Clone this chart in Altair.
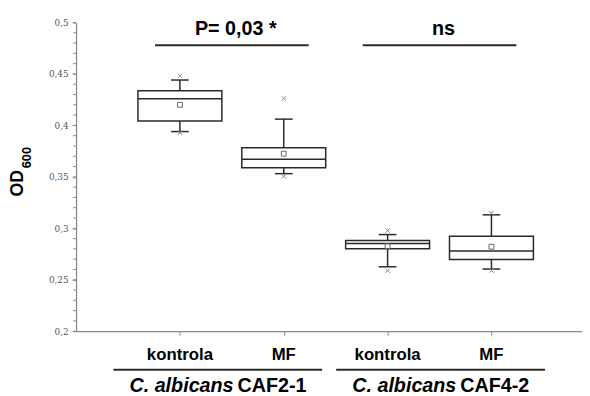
import altair as alt
import pandas as pd

# ---- data ----
categories = ["kontrola", "MF", "kontrola", "MF"]
strains = ["CAF2-1", "CAF2-1", "CAF4-2", "CAF4-2"]
q1 = [0.4042, 0.3588, 0.2802, 0.2697]
median = [0.4259, 0.3671, 0.2853, 0.2779]
q3 = [0.4336, 0.3783, 0.2882, 0.2923]
mean = [0.4200, 0.3725, 0.2827, 0.2821]
whisker_low = [0.3940, 0.3531, 0.2626, 0.2604]
whisker_high = [0.4441, 0.4061, 0.2939, 0.3131]
minimum = [0.3928, 0.3505, 0.2588, 0.2590]
maximum = [0.4482, 0.4262, 0.2978, 0.3147]

group_strains = ["CAF2-1", "CAF4-2"]
group_species = ["C. albicans", "C. albicans"]
comparisons = ["P= 0,03 *", "ns"]

y_major = [0.2, 0.25, 0.3, 0.35, 0.4, 0.45, 0.5]
y_minor = [round(0.2 + 0.01 * i, 2) for i in range(31)]
title_main = ["OD"]
title_sub = ["600"]

# ---- layout constants ----
XMAX = 4.872
BOX_HALF = 0.404
CAP_HALF = 0.085
BRACKET_HALF = 0.74
UNDER_HALF = 1.005
GROUP_SHIFT = [-0.135, 0.01]
FONT = "Liberation Sans"
AXIS_GRAY = "#8a8a8a"
INK = "#2a2a2a"

df = pd.DataFrame({
    "category": categories, "strain": strains,
    "pos": [i + 1 for i in range(len(categories))],
    "q1": q1, "median": median, "q3": q3, "mean": mean,
    "whisker_low": whisker_low, "whisker_high": whisker_high,
    "minimum": minimum, "maximum": maximum,
})

centers = df.groupby("strain", sort=False)["pos"].mean()
gdf = pd.DataFrame({
    "strain": group_strains, "species": group_species, "comparison": comparisons,
    "center": [centers[s] for s in group_strains],
    "shift": GROUP_SHIFT,
})

xs = alt.Scale(domain=[0, XMAX], nice=False, zero=False)
ys = alt.Scale(domain=[0.2, 0.5], nice=False, zero=False)

AX_X = alt.Axis(values=df["pos"].tolist(), labels=False, title=None, grid=False,
                tickSize=4, tickColor=AXIS_GRAY, domainColor=AXIS_GRAY,
                domainWidth=1.3, tickWidth=1)
AX_Y = alt.Axis(values=y_major, labelExpr="replace(toString(datum.value), '.', ',')",
                title=None, grid=False, tickSize=4, tickColor=AXIS_GRAY,
                domainColor=AXIS_GRAY, domainWidth=1.3, tickWidth=1,
                labelFont="DejaVu Serif", labelFontSize=9, labelColor="#555",
                labelPadding=4)


def X(field):
    return alt.X(field, scale=xs, axis=AX_X)


def Y(field):
    return alt.Y(field, scale=ys, axis=AX_Y)


base = alt.Chart(df)

whiskers_lo = base.mark_rule(color=INK, strokeWidth=1.5).encode(
    x=X("pos:Q"), y=Y("whisker_low:Q"), y2="q1:Q",
)
whiskers_hi = base.mark_rule(color=INK, strokeWidth=1.5).encode(
    x=X("pos:Q"), y=Y("q3:Q"), y2="whisker_high:Q",
)

boxes = base.transform_calculate(
    xl=f"datum.pos - {BOX_HALF}", xr=f"datum.pos + {BOX_HALF}"
).mark_rect(fill="white", stroke=INK, strokeWidth=1.5).encode(
    x=X("xl:Q"), x2="xr:Q", y=Y("q1:Q"), y2="q3:Q",
)

medians = base.transform_calculate(
    xl=f"datum.pos - {BOX_HALF}", xr=f"datum.pos + {BOX_HALF}"
).mark_rule(color=INK, strokeWidth=1.5).encode(
    x=X("xl:Q"), x2="xr:Q", y=Y("median:Q"),
)

caps = base.transform_fold(["whisker_low", "whisker_high"], as_=["k", "v"]).transform_calculate(
    xl=f"datum.pos - {CAP_HALF}", xr=f"datum.pos + {CAP_HALF}"
).mark_rule(color=INK, strokeWidth=1.5).encode(
    x=X("xl:Q"), x2="xr:Q", y=Y("v:Q"),
)

means = base.mark_point(shape="square", filled=False, size=24, color="#666",
                        strokeWidth=1, opacity=1).encode(
    x=X("pos:Q"), y=Y("mean:Q"),
)

extremes = base.transform_fold(["minimum", "maximum"], as_=["k", "v"]).mark_point(
    shape="M-1,-1L1,1M-1,1L1,-1", filled=False, size=20, color="#888",
    strokeWidth=1, opacity=1).encode(
    x=X("pos:Q"), y=Y("v:Q"),
)

minor = alt.Chart(pd.DataFrame({"t": y_minor})).mark_rule(
    color=AXIS_GRAY, strokeWidth=1).encode(
    x=alt.value(-3), x2=alt.value(0), y=Y("t:Q"),
)

cat_text = base.mark_text(font=FONT, fontWeight="bold", fontSize=17,
                          color="black", baseline="alphabetic").encode(
    x=X("pos:Q"), y=alt.value(342), text="category:N",
)

gbase = alt.Chart(gdf)

comp_text = gbase.mark_text(font=FONT, fontWeight="bold", fontSize=20,
                            color="black", baseline="alphabetic", dx=4).encode(
    x=X("center:Q"), y=alt.value(13), text="comparison:N",
)
brackets = gbase.transform_calculate(
    xl=f"datum.center - {BRACKET_HALF}", xr=f"datum.center + {BRACKET_HALF}"
).mark_rule(color=INK, strokeWidth=2).encode(
    x=X("xl:Q"), x2="xr:Q", y=alt.value(23),
)
underlines = gbase.transform_calculate(
    xl=f"datum.center + datum.shift - {UNDER_HALF}",
    xr=f"datum.center + datum.shift + {UNDER_HALF}"
).mark_rule(color=INK, strokeWidth=2).encode(
    x=X("xl:Q"), x2="xr:Q", y=alt.value(352),
)
species_text = gbase.transform_calculate(lc="datum.center + datum.shift").mark_text(
    font=FONT, fontWeight="bold", fontStyle="italic", fontSize=20, color="black",
    align="right", baseline="alphabetic", dx=16).encode(
    x=X("lc:Q"), y=alt.value(375), text="species:N",
)
strain_text = gbase.transform_calculate(lc="datum.center + datum.shift").mark_text(
    font=FONT, fontWeight="bold", fontSize=20, color="black",
    align="left", baseline="alphabetic", dx=20).encode(
    x=X("lc:Q"), y=alt.value(375), text="strain:N",
)

t_main = alt.Chart(pd.DataFrame({"t": title_main})).mark_text(
    font=FONT, fontWeight="bold", fontSize=18, color="black", angle=270,
    align="center", baseline="middle").encode(
    x=alt.value(-59), y=alt.value(163), text="t:N")
t_sub = alt.Chart(pd.DataFrame({"t": title_sub})).mark_text(
    font=FONT, fontWeight="bold", fontSize=13, color="black", angle=270,
    align="center", baseline="middle").encode(
    x=alt.value(-50), y=alt.value(137), text="t:N")

chart = alt.layer(
    whiskers_lo, whiskers_hi, boxes, medians, caps, means, extremes, minor,
    cat_text, comp_text, brackets, underlines, species_text, strain_text,
    t_main, t_sub,
).properties(
    width=513, height=313,
    autosize=alt.AutoSizeParams(type="none"),
    padding={"left": 69, "top": 12, "right": 0, "bottom": 63},
    background="white",
).configure_view(stroke=None)

chart.save("out.html", embed_options={"renderer": "svg", "actions": False})
